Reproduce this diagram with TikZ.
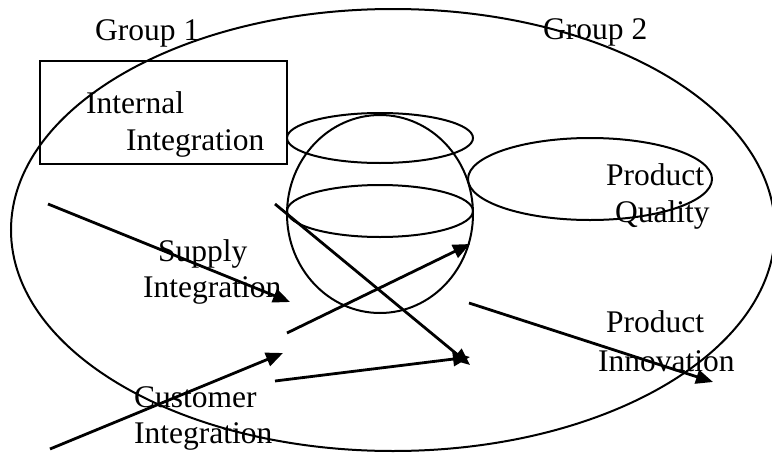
\documentclass[tikz,border=0pt]{standalone}
\usepackage{fontspec}
\setmainfont{Liberation Serif}
\usetikzlibrary{arrows.meta}

\begin{document}
\begin{tikzpicture}[
    x=1pt, y=-1pt,
    outline/.style={line width=2pt},
    flow/.style={-{Triangle[length=17pt, width=14pt]}, line width=2.8pt},
    lbl/.style={anchor=base west, inner sep=0pt, font=\fontsize{31.5}{37}\selectfont}
]
\useasboundingbox (0,0) rectangle (772,453);

% Groups and shapes
\draw[outline] (393,230) ellipse [x radius=382, y radius=221];
\draw[outline] (40,61) rectangle (287,164);
\draw[outline] (380,138) ellipse [x radius=93, y radius=25];
\draw[outline] (380,214) ellipse [x radius=93, y radius=99];
\draw[outline] (380,211) ellipse [x radius=93, y radius=26];
\draw[outline] (590,179) ellipse [x radius=122, y radius=41];

% Labels
\node[lbl] (g1) at (95,40) {Group 1};
\node[lbl] (g2) at (543,39) {Group 2};
\node[lbl] (ii1) at (86,113) {Internal};
\node[lbl] (ii2) at (126,150) {Integration};
\node[lbl] (si1) at (158,261) {Supply};
\node[lbl] (si2) at (143,297) {Integration};
\node[lbl] (ci1) at (134,407) {Customer};
\node[lbl] (ci2) at (134,443) {Integration};
\node[lbl] (pq1) at (606,185) {Product};
\node[lbl] (pq2) at (615,222) {Quality};
\node[lbl] (pi1) at (606,332) {Product};
\node[lbl] (pi2) at (598,371) {Innovation};

% Arrow ends
\coordinate (sA) at (48,204);
\coordinate (sB) at (290,302);
\coordinate (iA) at (275,204);
\coordinate (iB) at (470,365);
\coordinate (mA) at (287,333);
\coordinate (mB) at (470,244);
\coordinate (cA) at (50,449);
\coordinate (cB) at (283,353);
\coordinate (nA) at (275,381);
\coordinate (nB) at (470,357);
\coordinate (oA) at (469,303);
\coordinate (oB) at (713,382);

\draw[flow] (sA) -- (sB);
\draw[flow] (iA) -- (iB);
\draw[flow] (mA) -- (mB);
\draw[flow] (cA) -- (cB);
\draw[flow] (nA) -- (nB);
\draw[flow] (oA) -- (oB);
\end{tikzpicture}
\end{document}
